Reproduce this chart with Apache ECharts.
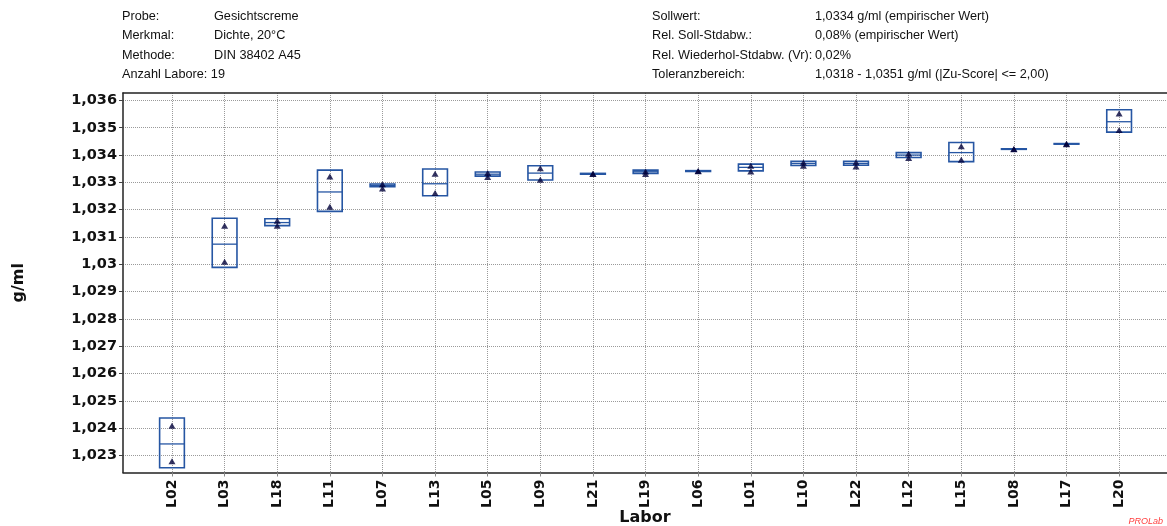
<!DOCTYPE html>
<html>
<head>
<meta charset="utf-8">
<script src="https://cdn.jsdelivr.net/npm/echarts@6/dist/echarts.min.js"></script>
<style>
  html, body { margin: 0; padding: 0; background: #fff; }
  #chart { width: 1167px; height: 526px; }
</style>
</head>
<body>
<div id="chart"></div>
<script>
// Laboratories in plotting order
const labs = ['L02', 'L03', 'L18', 'L11', 'L07', 'L13', 'L05', 'L09', 'L21', 'L19',
              'L06', 'L01', 'L10', 'L22', 'L12', 'L15', 'L08', 'L17', 'L20'];

// Box upper / lower edges and lab mean (g/ml)
const boxHigh = [1.02438, 1.03169, 1.03167, 1.03345, 1.03294, 1.03349, 1.03338, 1.03361, 1.03333, 1.03345,
                 1.03343, 1.03367, 1.03377, 1.03377, 1.03409, 1.03446, 1.03423, 1.03442, 1.03566];
const boxLow  = [1.02256, 1.02989, 1.03142, 1.03194, 1.03284, 1.03251, 1.03323, 1.03309, 1.03330, 1.03333,
                 1.03340, 1.03342, 1.03362, 1.03363, 1.03391, 1.03376, 1.03421, 1.03440, 1.03484];
const labMean = [1.02343, 1.03074, 1.03153, 1.03265, 1.03289, 1.03295, 1.03330, 1.03334, 1.03332, 1.03339,
                 1.03341, 1.03355, 1.03369, 1.03369, 1.03400, 1.03409, 1.03422, 1.03441, 1.03522];

// Single measurements (two replicates per lab)
const rep1 = [1.02410, 1.03141, 1.03160, 1.03322, 1.03293, 1.03332, 1.03334, 1.03352, 1.03332, 1.03340,
              1.03342, 1.03361, 1.03373, 1.03374, 1.03405, 1.03432, 1.03422, 1.03441, 1.03552];
const rep2 = [1.02280, 1.03010, 1.03141, 1.03211, 1.03278, 1.03261, 1.03320, 1.03310, 1.03331, 1.03331,
              1.03341, 1.03340, 1.03361, 1.03358, 1.03389, 1.03383, 1.03421, 1.03440, 1.03492];

// Value axis ticks
const yTicks = [1.023, 1.024, 1.025, 1.026, 1.027, 1.028, 1.029, 1.030, 1.031, 1.032, 1.033, 1.034, 1.035, 1.036];

// Header information
const infoLeftLabels  = ['Probe:', 'Merkmal:', 'Methode:', 'Anzahl Labore:'];
const infoLeftValues  = ['Gesichtscreme', 'Dichte, 20°C', 'DIN 38402 A45', '19'];
const infoRightLabels = ['Sollwert:', 'Rel. Soll-Stdabw.:', 'Rel. Wiederhol-Stdabw. (Vr):', 'Toleranzbereich:'];
const infoRightValues = ['1,0334 g/ml (empirischer Wert)', '0,08% (empirischer Wert)', '0,02%',
                         '1,0318 - 1,0351 g/ml (|Zu-Score| <= 2,00)'];

const labIdx = labs.map((_, i) => i);

const chart = echarts.init(document.getElementById('chart'), null, { renderer: 'canvas' });

const headFont = '12.7px "Liberation Sans", Arial, sans-serif';
const rowY = [16, 35.5, 55, 74.5];
const headerGraphics = [];
infoLeftLabels.forEach((lab, r) => {
  const inline = r === infoLeftLabels.length - 1;
  headerGraphics.push({
    type: 'text', x: 122, y: rowY[r],
    style: { text: inline ? lab + ' ' + infoLeftValues[r] : lab, font: headFont, fill: '#111', verticalAlign: 'middle' }
  });
  if (!inline) {
    headerGraphics.push({
      type: 'text', x: 214, y: rowY[r],
      style: { text: infoLeftValues[r], font: headFont, fill: '#111', verticalAlign: 'middle' }
    });
  }
});
infoRightLabels.forEach((lab, r) => {
  headerGraphics.push({
    type: 'text', x: 652, y: rowY[r],
    style: { text: lab, font: headFont, fill: '#111', verticalAlign: 'middle' }
  });
  headerGraphics.push({
    type: 'text', x: 815, y: rowY[r],
    style: { text: infoRightValues[r], font: headFont, fill: '#111', verticalAlign: 'middle' }
  });
});
headerGraphics.push({
  type: 'text', x: 1163, y: 521,
  style: { text: 'PROLab', font: 'italic 9px "Liberation Sans", Arial, sans-serif', fill: '#ff3c3c',
           align: 'right', verticalAlign: 'middle' }
});

const boxColor = '#2656a3';
const axisFont = '"DejaVu Sans", sans-serif';

function renderBox(params, api) {
  const i = api.value(0);
  const top = api.coord([i, api.value(1)]);
  const bot = api.coord([i, api.value(2)]);
  const mid = api.coord([i, api.value(3)]);
  const w = api.size([0.47, 0])[0];
  const x0 = top[0] - w / 2;
  return {
    type: 'group',
    children: [
      { type: 'rect', shape: { x: x0, y: top[1], width: w, height: bot[1] - top[1] },
        style: { fill: 'none', stroke: boxColor, lineWidth: 1.6 } },
      { type: 'line', shape: { x1: x0, y1: mid[1], x2: x0 + w, y2: mid[1] },
        style: { stroke: boxColor, lineWidth: 1.3 } }
    ]
  };
}

const option = {
  backgroundColor: '#fff',
  animation: false,
  graphic: headerGraphics,
  grid: { left: 123, right: 0, top: 93, bottom: 53.5, containLabel: false, outerBoundsMode: 'none' },
  xAxis: [{
    type: 'value',
    min: -0.931, max: 18.91,
    name: 'Labor',
    nameLocation: 'middle',
    nameGap: 45,
    nameMoveOverlap: false,
    nameTextStyle: { fontFamily: axisFont, fontWeight: 'bold', fontSize: 16, color: '#111', verticalAlign: 'middle' },
    axisLine: { show: true, onZero: false, lineStyle: { color: '#222', width: 1.5 } },
    axisTick: { show: true, customValues: labIdx, length: 4, lineStyle: { color: '#888' } },
    axisLabel: {
      customValues: labIdx, rotate: 90, margin: 7,
      fontFamily: axisFont, fontWeight: 'bold', fontSize: 14, color: '#111',
      formatter: v => labs[Math.round(v)]
    },
    splitLine: { show: true, lineStyle: { color: '#9a9a9a', type: [1, 1], width: 1 } }
  }, {
    type: 'value', position: 'top',
    min: -0.931, max: 18.91,
    axisLine: { show: true, onZero: false, lineStyle: { color: '#222', width: 1.5 } },
    axisTick: { show: false }, axisLabel: { show: false }, splitLine: { show: false }
  }],
  yAxis: {
    type: 'value',
    min: 1.022385, max: 1.036271,
    name: 'g/ml',
    nameLocation: 'middle',
    nameGap: 96,
    nameMoveOverlap: false,
    nameTextStyle: { fontFamily: axisFont, fontWeight: 'bold', fontSize: 16, color: '#111' },
    axisLine: { show: true, onZero: false, lineStyle: { color: '#222', width: 1.5 } },
    axisTick: { show: true, customValues: yTicks, length: 4, lineStyle: { color: '#444' } },
    axisLabel: {
      customValues: yTicks, margin: 6,
      fontFamily: axisFont, fontWeight: 'bold', fontSize: 14.5, color: '#111',
      formatter: v => String(+v.toFixed(4)).replace('.', ',')
    },
    splitLine: { show: true, lineStyle: { color: '#9a9a9a', type: [1, 1], width: 1 } }
  },
  series: [{
    type: 'custom',
    name: 'Labor-Box',
    xAxisIndex: 0,
    renderItem: renderBox,
    encode: { x: 0, y: [1, 2, 3] },
    data: labs.map((_, i) => [i, boxHigh[i], boxLow[i], labMean[i]]),
    z: 2
  }, {
    type: 'scatter',
    name: 'Einzelwerte',
    xAxisIndex: 0,
    symbol: 'triangle',
    symbolSize: [7, 6],
    itemStyle: { color: '#00003a' },
    data: labs.flatMap((_, i) => [[i, rep1[i]], [i, rep2[i]]]),
    z: 3
  }]
};

chart.setOption(option);
</script>
</body>
</html>
